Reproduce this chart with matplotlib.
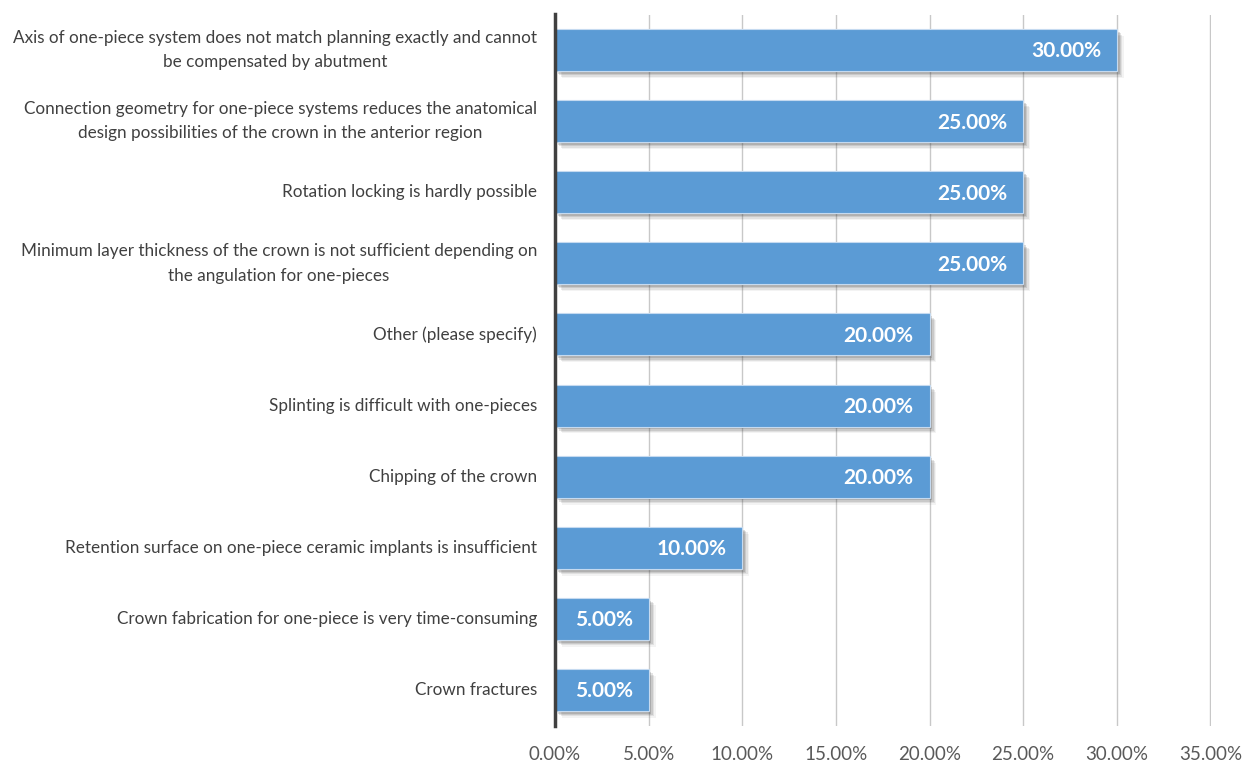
import matplotlib
matplotlib.use("Agg")
import matplotlib.pyplot as plt
import matplotlib.patheffects as pe
from matplotlib.ticker import FuncFormatter, MultipleLocator

categories = [
    "Axis of one-piece system does not match planning exactly and cannot\nbe compensated by abutment",
    "Connection geometry for one-piece systems reduces the anatomical\ndesign possibilities of the crown in the anterior region",
    "Rotation locking is hardly possible",
    "Minimum layer thickness of the crown is not sufficient depending on\nthe angulation for one-pieces",
    "Other (please specify)",
    "Splinting is difficult with one-pieces",
    "Chipping of the crown",
    "Retention surface on one-piece ceramic implants is insufficient",
    "Crown fabrication for one-piece is very time-consuming",
    "Crown fractures",
]
values = [30.0, 25.0, 25.0, 25.0, 20.0, 20.0, 20.0, 10.0, 5.0, 5.0]

plt.rcParams["font.family"] = ["Lato", "DejaVu Sans"]

fig = plt.figure(figsize=(12.46, 7.62), dpi=100)
ax = fig.add_axes([555 / 1246, 1 - 725.5 / 762, (1211 - 555) / 1246, (725.5 - 14.5) / 762])

y = list(range(len(categories)))
bars = ax.barh(y, values, height=0.59, color="#5B9BD5", edgecolor="#C5DAF0",
               linewidth=0.8, zorder=3)
# soft drop shadow built from a few stacked offsets
shadow = [
    pe.SimplePatchShadow(offset=(o, -o), shadow_rgbFace="#404040", alpha=a)
    for o, a in [(5, 0.06), (4, 0.10), (3, 0.14), (2, 0.18)]
]
for b in bars:
    b.set_path_effects(shadow + [pe.Normal()])

for yi, v in zip(y, values):
    ax.text(v - 0.85, yi + 0.02, f"{v:.2f}%", ha="right", va="center", color="white",
            fontsize=15, fontweight="bold", zorder=4)

ax.set_xlim(0, 35.03)
ax.set_ylim(len(categories) - 0.5, -0.5)
ax.xaxis.set_major_locator(MultipleLocator(5))
ax.xaxis.set_major_formatter(FuncFormatter(lambda x, _: f"{x:.2f}%"))
ax.set_yticks(y)
ax.set_yticklabels(categories, ha="right", va="center", multialignment="center",
                   linespacing=1.65)
ax.tick_params(axis="y", length=0, pad=13, labelsize=12.3, labelcolor="#404040")
ax.tick_params(axis="x", length=0, pad=15, labelsize=13.5, labelcolor="#595959")

ax.grid(axis="x", color="#C8C8C8", linewidth=1.0, zorder=0)
ax.set_axisbelow(True)
for s in ["top", "right", "bottom"]:
    ax.spines[s].set_visible(False)
ax.spines["left"].set_color("#404040")
ax.spines["left"].set_linewidth(2.5)
ax.spines["left"].set_zorder(5)

fig.savefig("out.png", dpi=100, facecolor="white")
